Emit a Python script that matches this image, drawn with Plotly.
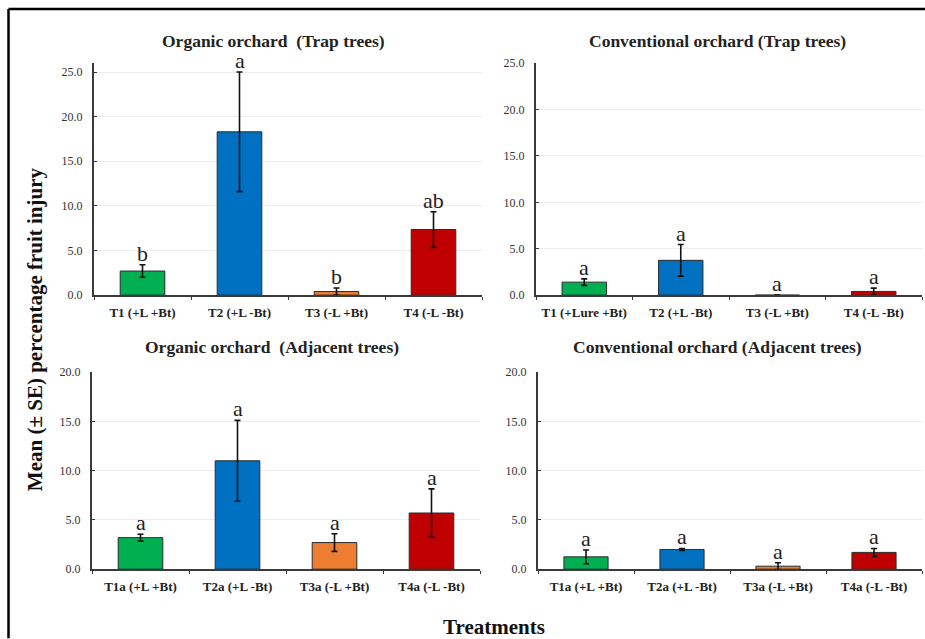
import plotly.graph_objects as go

W, H = 925, 639

colors = ["#00B050", "#0070C0", "#ED7D31", "#C00000"]

cats_p1 = ["T1 (+L +Bt)", "T2 (+L -Bt)", "T3 (-L +Bt)", "T4 (-L -Bt)"]
vals_p1 = [2.7, 18.3, 0.4, 7.35]
errs_p1 = [0.7, 6.7, 0.4, 2.0]
lets_p1 = ["b", "a", "b", "ab"]

cats_p2 = ["T1 (+Lure +Bt)", "T2 (+L -Bt)", "T3 (-L +Bt)", "T4 (-L -Bt)"]
vals_p2 = [1.4, 3.75, 0.0, 0.4]
errs_p2 = [0.35, 1.7, 0.0, 0.35]
lets_p2 = ["a", "a", "a", "a"]

cats_p3 = ["T1a (+L +Bt)", "T2a (+L -Bt)", "T3a (-L +Bt)", "T4a (-L -Bt)"]
vals_p3 = [3.2, 11.0, 2.7, 5.7]
errs_p3 = [0.35, 4.1, 0.9, 2.45]
lets_p3 = ["a", "a", "a", "a"]

cats_p4 = ["T1a (+L +Bt)", "T2a (+L -Bt)", "T3a (-L +Bt)", "T4a (-L -Bt)"]
vals_p4 = [1.25, 2.0, 0.3, 1.7]
errs_p4 = [0.7, 0.1, 0.35, 0.4]
lets_p4 = ["a", "a", "a", "a"]

titles = ["Organic orchard  (Trap trees)", "Conventional orchard (Trap trees)",
          "Organic orchard  (Adjacent trees)", "Conventional orchard (Adjacent trees)"]
y_ranges = [[0, 26], [0, 25], [0, 20], [0, 20]]
y_tickvals = [[0, 5, 10, 15, 20, 25], [0, 5, 10, 15, 20, 25], [0, 5, 10, 15, 20], [0, 5, 10, 15, 20]]

# target pixel layout of panels: (x0, x1, ytop, ybottom)
boxes = [(94, 482, 63, 295), (536, 922, 63, 295), (92, 480, 372, 569), (538, 922, 372, 569)]
title_pos = [(273, 41), (717, 41), (272, 347), (717, 347)]

SX, OX = 1.0, 0.0
SY, OY = 0.978, 6.9


def px(x):
    return min(1.0, ((x - OX) / SX) / W)


def py(y):
    return max(0.0, min(1.0, 1 - ((y - OY) / SY) / H))


panels = [(cats_p1, vals_p1, errs_p1, lets_p1), (cats_p2, vals_p2, errs_p2, lets_p2),
          (cats_p3, vals_p3, errs_p3, lets_p3), (cats_p4, vals_p4, errs_p4, lets_p4)]

FONT = "Liberation Serif, Times New Roman, serif"

fig = go.Figure()
annotations = []
for i, (cats, vals, errs, lets) in enumerate(panels):
    n = "" if i == 0 else str(i + 1)
    fig.add_trace(go.Bar(
        x=cats, y=vals, xaxis="x" + n, yaxis="y" + n,
        marker=dict(color=colors, line=dict(color="#2b2b2b", width=1)),
        width=0.46,
        error_y=dict(type="data", array=errs, visible=True, color="#111111",
                     thickness=1.6, width=3),
        showlegend=False, hoverinfo="skip",
    ))
    x0, x1, yt, yb = boxes[i]
    fig.layout["xaxis" + n] = dict(
        domain=[px(x0), px(x1)], anchor="y" + n, type="category",
        showline=True, linecolor="#3a3a3a", linewidth=2,
        ticks="outside", tickson="boundaries", ticklen=3, tickcolor="#3a3a3a",
        showgrid=False, zeroline=False, tickangle=0,
        tickfont=dict(family=FONT, size=13, color="#222222", weight="bold"),
        ticklabelstandoff=4,
    )
    fig.layout["yaxis" + n] = dict(
        domain=[py(yb), py(yt)], anchor="x" + n, range=y_ranges[i],
        tickvals=y_tickvals[i], tickformat=".1f",
        showline=True, linecolor="#3a3a3a", linewidth=2,
        ticks="inside", ticklen=3, tickcolor="#3a3a3a",
        showgrid=True, gridcolor="#ececec", gridwidth=1, zeroline=False,
        tickfont=dict(family=FONT, size=12, color="#333333"),
        ticklabelstandoff=7,
    )
    for c, v, e, l in zip(cats, vals, errs, lets):
        annotations.append(dict(
            x=c, y=v + e, xref="x" + n, yref="y" + n, text=l, showarrow=False,
            yanchor="bottom", yshift=-3,
            font=dict(family=FONT, size=22, color="#222222"),
        ))
    tx, ty = title_pos[i]
    annotations.append(dict(
        x=px(tx), y=py(ty), xref="paper", yref="paper", text=titles[i],
        showarrow=False, xanchor="center", yanchor="middle",
        font=dict(family=FONT, size=17.5, color="#222222", weight="bold"),
    ))

annotations.append(dict(
    x=px(35), y=py(329), xref="paper", yref="paper",
    text="Mean (± SE) percentage fruit injury", textangle=-90, showarrow=False,
    xanchor="center", yanchor="middle",
    font=dict(family=FONT, size=21, color="#111111", weight="bold"),
))
annotations.append(dict(
    x=px(494), y=py(627), xref="paper", yref="paper",
    text="Treatments", showarrow=False, xanchor="center", yanchor="middle",
    font=dict(family=FONT, size=21, color="#111111", weight="bold"),
))

shapes = [
    dict(type="line", xref="paper", yref="paper", x0=px(8.5), x1=1.01, y0=py(9), y1=py(9),
         line=dict(color="#000000", width=2.5)),
    dict(type="line", xref="paper", yref="paper", x0=px(8.5), x1=px(8.5), y0=py(9), y1=-0.01,
         line=dict(color="#000000", width=2.5)),
]

fig.update_layout(
    width=W, height=H, margin=dict(l=0, r=0, t=0, b=0),
    paper_bgcolor="white", plot_bgcolor="white",
    annotations=annotations, shapes=shapes, bargap=0.5,
)

fig.write_html("out.html", config={"displayModeBar": False},
               post_script="document.body.style.margin='0px';document.body.style.overflow='hidden';")
